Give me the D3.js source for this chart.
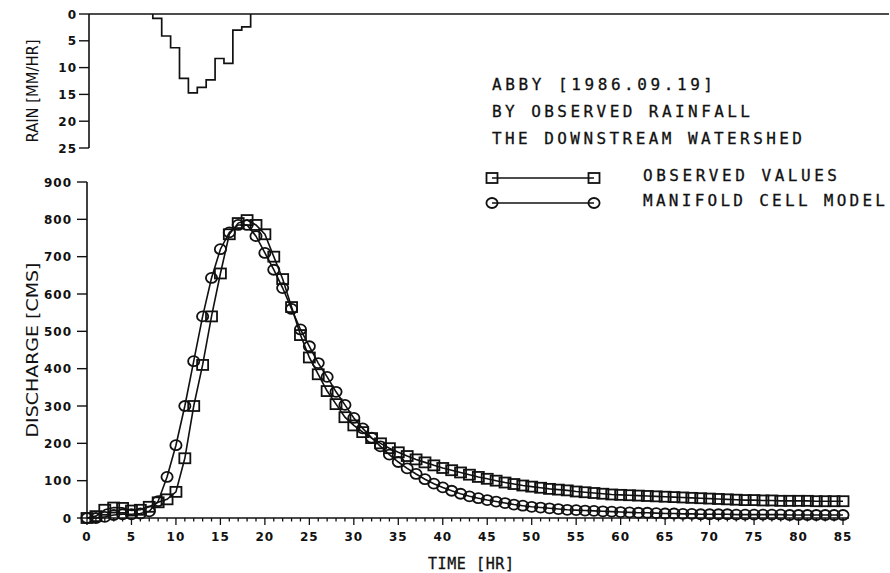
<!DOCTYPE html>
<html>
<head>
<meta charset="utf-8">
<script src="https://cdn.jsdelivr.net/npm/d3@7/dist/d3.min.js"></script>
<style>
  html, body { margin: 0; padding: 0; background: #fff; }
  svg { display: block; }
</style>
</head>
<body>
<svg id="chart" width="890" height="573"></svg>
<script>
// ---------------- DATA ----------------
const hours = d3.range(0, 86);
const observed = [
  0, 5, 22, 28, 27, 20, 22, 30, 42, 50,
  70, 160, 300, 410, 540, 655, 760, 790, 798, 785,
  760, 700, 640, 565, 490, 430, 385, 340, 305, 270,
  248, 230, 214, 200, 187, 176, 166, 157, 149, 141,
  134, 128, 122, 116, 110, 105, 100, 95, 91, 87,
  84, 81, 78, 76, 74, 71, 69, 67, 65, 63,
  62, 61, 60, 59, 58, 57, 56, 55, 54, 53,
  52, 51, 50, 49, 48, 48, 47, 47, 46, 46,
  46, 46, 45, 45, 45, 45
];
const model = [
  0, 0, 3, 8, 10, 10, 12, 18, 45, 110,
  195, 300, 420, 540, 643, 720, 765, 785, 785, 755,
  710, 665, 616, 560, 505, 460, 415, 378, 338, 303,
  268, 240, 215, 192, 170, 150, 133, 118, 104, 92,
  82, 73, 65, 58, 53, 48, 44, 40, 36, 33,
  30, 28, 26, 24, 22, 21, 20, 19, 18, 17,
  16, 15, 14, 14, 13, 12, 12, 11, 11, 10,
  10, 10, 10, 9, 9, 9, 9, 9, 9, 8,
  8, 8, 8, 8, 8, 8
];
// rain hyetograph: bin edges (hr) and intensities (mm/hr)
const rainEdges = [7.4, 8.4, 9.4, 10.4, 11.4, 12.4, 13.4, 14.4, 15.4, 16.4, 17.4, 18.4];
const rainValues = [0.8, 4.1, 6.3, 12.0, 14.7, 13.7, 12.3, 8.3, 9.2, 3.0, 2.4];

const xTicks = [0, 5, 10, 15, 20, 25, 30, 35, 40, 45, 50, 55, 60, 65, 70, 75, 80, 85];
const yTicks = [0, 100, 200, 300, 400, 500, 600, 700, 800, 900];
const rainTicks = [0, 5, 10, 15, 20, 25];

const titleLines = ["ABBY [1986.09.19]", "BY OBSERVED RAINFALL", "THE DOWNSTREAM WATERSHED"];
const legendLabels = ["OBSERVED VALUES", "MANIFOLD CELL MODEL"];

// ---------------- DRAW ----------------
const svg = d3.select("#chart");
const ink = "#111";
const tickFont = "DejaVu Sans";
const textFont = "DejaVu Sans Mono";

const x = d3.scaleLinear().domain([0, 85]).range([87, 843]);
const y = d3.scaleLinear().domain([0, 900]).range([518, 182]);
const yr = d3.scaleLinear().domain([0, 25]).range([14, 148]);

function tickLabel(xp, yp, v, anchor) {
  svg.append("text").attr("x", xp).attr("y", yp)
    .attr("text-anchor", anchor).attr("font-family", tickFont).attr("font-weight", "bold")
    .attr("font-size", 12).attr("letter-spacing", 1).attr("fill", ink).text(v);
}

// ---- rain panel ----
const rainAxisX = 89;
svg.append("line").attr("x1", rainAxisX).attr("x2", 889).attr("y1", yr(0)).attr("y2", yr(0))
  .attr("stroke", ink).attr("stroke-width", 1.6);
svg.append("line").attr("x1", rainAxisX).attr("x2", rainAxisX).attr("y1", yr(0)).attr("y2", yr(25))
  .attr("stroke", ink).attr("stroke-width", 1.6);
rainTicks.forEach(v => {
  svg.append("line").attr("x1", rainAxisX - 10).attr("x2", rainAxisX).attr("y1", yr(v)).attr("y2", yr(v))
    .attr("stroke", ink).attr("stroke-width", 1.4);
  tickLabel(rainAxisX - 12, yr(v) + 4.5, v, "end");
});
const rainPts = [[rainEdges[0], 0]];
rainValues.forEach((v, i) => rainPts.push([rainEdges[i], v]));
rainPts.push([rainEdges[rainEdges.length - 1], 0]);
svg.append("path")
  .attr("d", d3.line().x(d => x(d[0])).y(d => yr(d[1])).curve(d3.curveStepAfter)(rainPts))
  .attr("fill", "none").attr("stroke", ink).attr("stroke-width", 1.7);

svg.append("text")
  .attr("transform", `translate(38,${(yr(0) + yr(25)) / 2 + 10}) rotate(-90)`)
  .attr("text-anchor", "middle").attr("font-family", "DejaVu Sans").attr("font-size", 15)
  .attr("textLength", 103).attr("lengthAdjust", "spacingAndGlyphs").attr("fill", ink)
  .text("RAIN [MM/HR]");

// ---- main axes ----
svg.append("line").attr("x1", x(0)).attr("x2", x(0)).attr("y1", y(0)).attr("y2", y(900))
  .attr("stroke", ink).attr("stroke-width", 1.6);
yTicks.forEach(v => {
  svg.append("line").attr("x1", x(0) - 10).attr("x2", x(0)).attr("y1", y(v)).attr("y2", y(v))
    .attr("stroke", ink).attr("stroke-width", 1.4);
  tickLabel(x(0) - 15, y(v) + 4.5, v, "end");
});
svg.append("line").attr("x1", x(0)).attr("x2", x(85) + 6).attr("y1", y(0)).attr("y2", y(0))
  .attr("stroke", ink).attr("stroke-width", 1.6);
hours.forEach(h => {
  const major = h % 5 === 0;
  svg.append("line").attr("x1", x(h)).attr("x2", x(h)).attr("y1", y(0)).attr("y2", y(0) + (major ? 7 : 3.5))
    .attr("stroke", ink).attr("stroke-width", 1.3);
});
xTicks.forEach(v => tickLabel(x(v), y(0) + 23, v, "middle"));

svg.append("text")
  .attr("transform", `translate(38,${(y(0) + y(900)) / 2}) rotate(-90)`)
  .attr("text-anchor", "middle").attr("font-family", "DejaVu Sans").attr("font-size", 15)
  .attr("textLength", 175).attr("lengthAdjust", "spacingAndGlyphs").attr("fill", ink)
  .text("DISCHARGE [CMS]");

svg.append("text").attr("x", 428).attr("y", 569)
  .attr("font-family", textFont).attr("font-size", 15)
  .attr("stroke", ink).attr("stroke-width", 0.3)
  .attr("textLength", 86).attr("lengthAdjust", "spacing").attr("fill", ink)
  .text("TIME [HR]");

// ---- series ----
const lineGen = d3.line().x((d, i) => x(hours[i])).y(d => y(d));
svg.append("path").attr("d", lineGen(observed)).attr("fill", "none").attr("stroke", ink).attr("stroke-width", 1.6);
svg.append("path").attr("d", lineGen(model)).attr("fill", "none").attr("stroke", ink).attr("stroke-width", 1.6);

function square(g, cx, cy) {
  g.append("rect").attr("x", cx - 5.5).attr("y", cy - 5).attr("width", 11).attr("height", 10)
    .attr("fill", "none").attr("stroke", ink).attr("stroke-width", 1.8);
}
function circ(g, cx, cy) {
  g.append("ellipse").attr("cx", cx).attr("cy", cy).attr("rx", 5.6).attr("ry", 5)
    .attr("fill", "none").attr("stroke", ink).attr("stroke-width", 1.8);
}
const gObs = svg.append("g");
observed.forEach((v, i) => square(gObs, x(hours[i]), y(v)));
const gMod = svg.append("g");
model.forEach((v, i) => circ(gMod, x(hours[i]), y(v)));

// ---- title ----
const titleWidths = [221, 258, 310];
titleLines.forEach((t, i) => {
  svg.append("text").attr("x", 492).attr("y", 90 + i * 27)
    .attr("font-family", textFont).attr("font-size", 16)
    .attr("stroke", ink).attr("stroke-width", 0.3)
    .attr("textLength", titleWidths[i]).attr("lengthAdjust", "spacing").attr("fill", ink).text(t);
});

// ---- legend ----
const legendWidths = [194, 242];
const legendY = [178, 203];
legendLabels.forEach((t, i) => {
  const ly = legendY[i];
  svg.append("line").attr("x1", 492).attr("x2", 594).attr("y1", ly).attr("y2", ly)
    .attr("stroke", ink).attr("stroke-width", 1.5);
  const g = svg.append("g");
  if (i === 0) { square(g, 492, ly); square(g, 594, ly); }
  else { circ(g, 492, ly); circ(g, 594, ly); }
  svg.append("text").attr("x", 643).attr("y", ly + 3)
    .attr("font-family", textFont).attr("font-size", 16)
    .attr("stroke", ink).attr("stroke-width", 0.3)
    .attr("textLength", legendWidths[i]).attr("lengthAdjust", "spacing").attr("fill", ink).text(t);
});
</script>
</body>
</html>
